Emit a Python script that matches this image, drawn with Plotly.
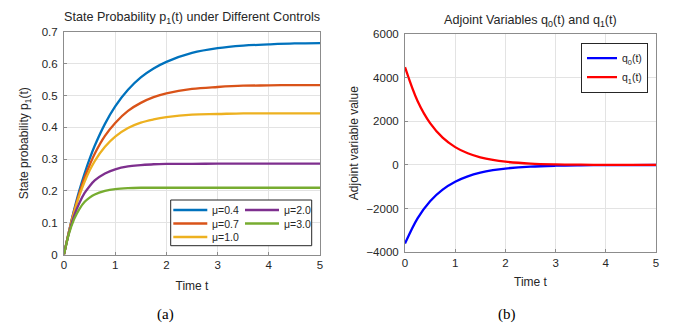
import plotly.graph_objects as go

# temps (s) et valeurs
t_p = [0, 0.1, 0.2, 0.3, 0.4, 0.5, 0.6, 0.8, 1.0, 1.25, 1.5, 1.75, 2, 2.5, 3, 3.5, 4, 4.5, 5]
p_mu04 = [0, 0.075, 0.142, 0.202, 0.254, 0.301, 0.342, 0.411, 0.466, 0.518, 0.557, 0.585, 0.606, 0.634, 0.649, 0.657, 0.661, 0.664, 0.665]
p_mu07 = [0, 0.074, 0.138, 0.193, 0.241, 0.281, 0.317, 0.373, 0.414, 0.452, 0.477, 0.495, 0.507, 0.521, 0.527, 0.531, 0.532, 0.533, 0.533]
p_mu10 = [0, 0.073, 0.134, 0.185, 0.228, 0.264, 0.294, 0.339, 0.371, 0.398, 0.415, 0.425, 0.432, 0.440, 0.442, 0.444, 0.444, 0.444, 0.444]
p_mu20 = [0, 0.070, 0.123, 0.162, 0.193, 0.215, 0.233, 0.255, 0.268, 0.277, 0.281, 0.284, 0.285, 0.285, 0.286, 0.286, 0.286, 0.286, 0.286]
p_mu30 = [0, 0.067, 0.112, 0.143, 0.165, 0.179, 0.189, 0.200, 0.206, 0.209, 0.210, 0.210, 0.210, 0.210, 0.210, 0.210, 0.210, 0.210, 0.210]

t_q = [0, 0.25, 0.5, 0.75, 1, 1.25, 1.5, 1.75, 2, 2.5, 3, 3.5, 4, 4.5, 5]
q0 = [-3600, -2444, -1658, -1126, -764, -519, -352, -239, -162, -75, -34, -16, -7, -3, -1]
q1 = [4480, 2929, 1915, 1252, 818, 535, 350, 229, 150, 64, 27, 12, 5, 2, 1]

mu_labels = ["μ=0.4", "μ=0.7", "μ=1.0", "μ=2.0", "μ=3.0"]
couleurs = ["#0072BD", "#D95319", "#EDB120", "#7E2F8E", "#77AC30"]

# la page ajoute une marge de 8 px autour de la figure
OFF = 8
W, H = 694 - OFF, 326 - OFF
def px(x):
    return (x - OFF) / W
def py(y):
    return 1 - (y - OFF) / H

police = "Arial, Liberation Sans, sans-serif"
txt = "#262626"
cadre = "#8c8c8c"
grille = "#e3e3e3"

fig = go.Figure()

for y, nom, c in zip([p_mu04, p_mu07, p_mu10, p_mu20, p_mu30], mu_labels, couleurs):
    fig.add_trace(go.Scatter(x=t_p, y=y, name=nom, mode="lines", line=dict(color=c, width=2.3, shape="spline"),
                             xaxis="x", yaxis="y", showlegend=False))

fig.add_trace(go.Scatter(x=t_q, y=q0, name="q<sub>0</sub>(t)", mode="lines",
                         line=dict(color="#0000FF", width=2.3, shape="spline"), xaxis="x2", yaxis="y2"))
fig.add_trace(go.Scatter(x=t_q, y=q1, name="q<sub>1</sub>(t)", mode="lines",
                         line=dict(color="#FF0000", width=2.3, shape="spline"), xaxis="x2", yaxis="y2"))

axe = dict(showline=True, linecolor=cadre, linewidth=1, mirror=True, showgrid=True, gridcolor=grille,
           ticks="inside", ticklen=3, tickcolor=cadre, zeroline=False, automargin=False,
           tickfont=dict(size=11.5, color=txt, family=police))

fig.update_layout(
    width=W, height=H,
    margin=dict(l=0, r=0, t=0, b=0),
    paper_bgcolor="white", plot_bgcolor="white",
    font=dict(family=police, color=txt, size=11.5),
    xaxis=dict(axe, domain=[px(64), px(320)], range=[0, 5], dtick=1, anchor="y",
               title=dict(text="Time t", font=dict(size=12), standoff=11)),
    yaxis=dict(axe, domain=[py(254.5), py(32)], range=[0, 0.7], dtick=0.1, anchor="x", ticklabelstandoff=3,
               title=dict(text="State probability p<sub>1</sub>(t)", font=dict(size=12), standoff=10)),
    xaxis2=dict(axe, domain=[px(405), px(656)], range=[0, 5], dtick=1, anchor="y2",
                title=dict(text="Time t", font=dict(size=12), standoff=9)),
    yaxis2=dict(axe, domain=[py(252.3), py(34)], range=[-4000, 6000], dtick=2000, anchor="x2", ticklabelstandoff=3,
                title=dict(text="Adjoint variable value", font=dict(size=12), standoff=5)),
    legend=dict(x=px(648), y=py(42.7), xanchor="right", yanchor="top", bgcolor="white",
                bordercolor="#262626", borderwidth=1, font=dict(size=10.5), itemwidth=30),
)

# légende en deux colonnes du panneau (a)
fig.add_shape(type="rect", xref="paper", yref="paper", x0=px(170.7), x1=px(311.7), y0=py(245.7), y1=py(200),
              line=dict(color="#262626", width=1), fillcolor="white", layer="above")
pos_leg = [(173.3, 210), (173.3, 223.5), (173.3, 237), (245, 210), (245, 223.5)]
for (lx, ly), nom, c in zip(pos_leg, mu_labels, couleurs):
    fig.add_shape(type="line", xref="paper", yref="paper", x0=px(lx), x1=px(lx + 34), y0=py(ly), y1=py(ly),
                  line=dict(color=c, width=2.3), layer="above")
    fig.add_annotation(text=nom, x=px(lx + 36.5), y=py(ly), xref="paper", yref="paper", xanchor="left",
                       yanchor="middle", showarrow=False, font=dict(size=10.5, color=txt))

fig.add_annotation(text="State Probability p<sub>1</sub>(t) under Different Controls", x=px(192), y=py(18),
                   xref="paper", yref="paper", xanchor="center", yanchor="middle", showarrow=False,
                   font=dict(size=12.6, color=txt))
fig.add_annotation(text="Adjoint Variables q<sub>0</sub>(t) and q<sub>1</sub>(t)", x=px(530), y=py(20.5),
                   xref="paper", yref="paper", xanchor="center", yanchor="middle", showarrow=False,
                   font=dict(size=12.6, color=txt))
fig.add_annotation(text="(a)", x=px(165), y=py(314), xref="paper", yref="paper", xanchor="center",
                   yanchor="middle", showarrow=False,
                   font=dict(size=15, color="black", family="Liberation Serif, Times New Roman, serif"))
fig.add_annotation(text="(b)", x=px(507), y=py(314), xref="paper", yref="paper", xanchor="center",
                   yanchor="middle", showarrow=False,
                   font=dict(size=15, color="black", family="Liberation Serif, Times New Roman, serif"))

fig.write_html("out.html")
